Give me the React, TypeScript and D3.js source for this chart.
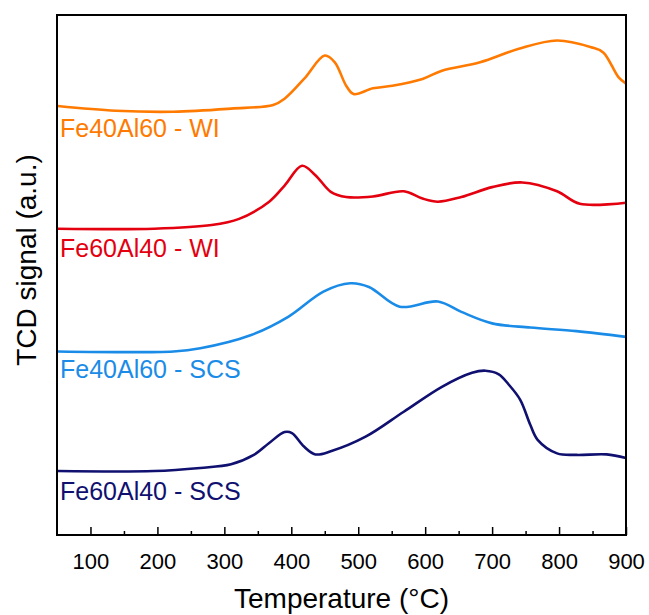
import React from "react";
import {axisBottom, curveCatmullRom, line, range, scaleLinear, select} from "d3";

// Temperature (°C) and TCD signal (a.u.)
const feAl4060WiT = [51, 138, 224, 310, 373, 390, 419, 450, 465, 482, 493, 522, 551, 596, 625, 682, 740, 797, 848, 866, 889, 900];
const feAl4060WiY = [82.5, 81.6, 81.4, 82.0, 82.7, 83.9, 87.7, 92.2, 90.9, 86.4, 84.8, 85.9, 86.4, 87.7, 89.3, 90.9, 93.5, 95.1, 93.8, 92.8, 88.0, 86.8];

const feAl6040WiT = [51, 195, 281, 322, 367, 390, 416, 436, 459, 482, 522, 568, 596, 619, 654, 700, 745, 797, 831, 900];
const feAl6040WiY = [58.9, 58.9, 59.6, 60.8, 64.1, 67.2, 71.0, 69.2, 66.0, 65.0, 65.1, 66.1, 64.7, 64.1, 65.0, 66.9, 67.8, 66.1, 63.7, 63.9];

const feAl4060ScsT = [51, 224, 264, 339, 396, 448, 488, 516, 562, 619, 654, 700, 757, 826, 900];
const feAl4060ScsY = [35.3, 35.3, 35.9, 38.4, 42.0, 46.8, 48.4, 47.7, 43.9, 44.9, 42.9, 40.7, 39.9, 39.2, 38.1];

const feAl6040ScsT = [51, 195, 264, 310, 344, 367, 390, 401, 419, 436, 459, 511, 568, 625, 670, 690, 710, 725, 742, 757, 768, 797, 826, 871, 900];
const feAl6040ScsY = [12.3, 12.3, 12.9, 13.6, 15.4, 17.7, 19.8, 19.6, 17.0, 15.5, 16.1, 18.9, 23.7, 28.5, 31.2, 31.6, 30.9, 28.9, 26.0, 21.2, 18.3, 15.7, 15.4, 15.5, 14.8];

const seriesNames = ["Fe40Al60 - WI", "Fe60Al40 - WI", "Fe40Al60 - SCS", "Fe60Al40 - SCS"];
const seriesColors = ["#ff7a00", "#e4000f", "#1a8ce8", "#101070"];
const labelValues = [76.5, 53.5, 30.2, 6.8];
const xTicks = [100, 200, 300, 400, 500, 600, 700, 800, 900];

const width = 649;
const height = 615;
const margin = {top: 15, right: 23, bottom: 80, left: 57};
const font = "Arial, 'Liberation Sans', sans-serif";

export default function App() {
    const axisRef = React.useRef<SVGGElement>(null);

    const x = scaleLinear().domain([50, 900]).range([margin.left, width - margin.right]);
    const y = scaleLinear().domain([0, 100]).range([height - margin.bottom, margin.top]);

    const allSeries = [
        [feAl4060WiT, feAl4060WiY],
        [feAl6040WiT, feAl6040WiY],
        [feAl4060ScsT, feAl4060ScsY],
        [feAl6040ScsT, feAl6040ScsY],
    ].map(([ts, vs]) => ts.map((t, i) => [t, vs[i]] as [number, number]));

    const lineGen = line<[number, number]>()
        .x(d => x(d[0]))
        .y(d => y(d[1]))
        .curve(curveCatmullRom.alpha(0.5));

    React.useEffect(() => {
        const g = select(axisRef.current);
        g.selectAll("*").remove();
        // minor ticks inside
        g.call(axisBottom(x).tickValues(range(150, 900, 100)).tickSize(-4).tickFormat(() => ""));
        g.append("g").call(
            axisBottom(x).tickValues(xTicks).tickSize(-8).tickPadding(18)
        );
        g.selectAll(".domain").remove();
        g.selectAll("line").attr("stroke", "#000").attr("stroke-width", 1.5);
        g.selectAll("text")
            .attr("font-family", font)
            .attr("font-size", 22)
            .attr("fill", "#000");
    }, []);

    return (
        <svg width={width} height={height} style={{position: "absolute", left: 0, top: 0}}>
            <rect width={width} height={height} fill="#fff"/>
            {allSeries.map((s, i) => (
                <path key={i} d={lineGen(s) || ""} fill="none" stroke={seriesColors[i]}
                      strokeWidth={2.6}/>
            ))}
            {seriesNames.map((n, i) => (
                <text key={n} x={x(50) + 3} y={y(labelValues[i])} fill={seriesColors[i]}
                      fontFamily={font} fontSize={25}>{n}</text>
            ))}
            <g ref={axisRef} transform={`translate(0,${height - margin.bottom})`}/>
            <rect x={margin.left} y={margin.top} width={width - margin.left - margin.right}
                  height={height - margin.top - margin.bottom} fill="none" stroke="#000" strokeWidth={2}/>
            <text x={(margin.left + width - margin.right) / 2} y={608} textAnchor="middle"
                  fontFamily={font} fontSize={28}>Temperature (°C)</text>
            <text transform={`translate(36,260) rotate(-90)`} textAnchor="middle"
                  fontFamily={font} fontSize={28}>TCD signal (a.u.)</text>
        </svg>
    );
}
